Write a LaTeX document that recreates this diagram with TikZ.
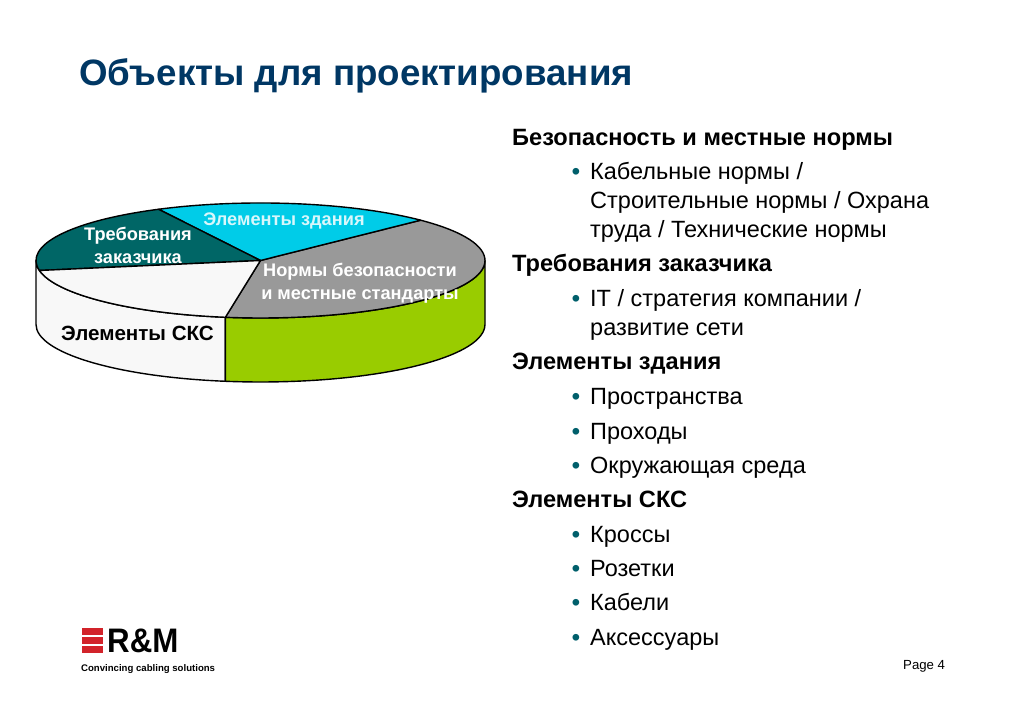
\documentclass[tikz,border=0pt]{standalone}
\usepackage{fontspec}
\usetikzlibrary{calc}
\setmainfont{Liberation Sans}
\definecolor{titleblue}{HTML}{003764}
\definecolor{bulletteal}{HTML}{005F6B}
\definecolor{sliceteal}{HTML}{006666}
\definecolor{slicecyan}{HTML}{00CCE8}
\definecolor{slicegrey}{HTML}{999999}
\definecolor{slicegreen}{HTML}{99CC00}
\definecolor{slicewhite}{HTML}{F8F8F8}
\definecolor{logored}{HTML}{D2232A}
\tikzset{
  heading/.style={anchor=base west,inner sep=0pt,font=\fontsize{23.6}{26}\selectfont\bfseries},
  bodytext/.style={anchor=base west,inner sep=0pt,font=\fontsize{23.5}{26}\selectfont},
  bulletmark/.style={anchor=base,inner sep=0pt,text=bulletteal,font=\fontsize{23.5}{26}\selectfont\bfseries},
  slicelabel/.style={inner sep=0pt,align=center,font=\fontsize{18.2}{23}\selectfont\bfseries},
  pieline/.style={draw=black,line width=1.4pt,line join=round},
}
\begin{document}
\begin{tikzpicture}[x=1pt,y=1pt]
\useasboundingbox (0,0) rectangle (1023,708);

% Pie centre and radii
\def\rx{224.5pt}
\def\ry{57.5pt}
\def\dep{64}
\coordinate (O) at (260.5,447.5);

% Side walls
\draw[pieline,fill=slicewhite] ($(O)+(261:224.5 and 57.5)$) arc[start angle=261,end angle=180,x radius=\rx,y radius=\ry]
  -- ++(0,-\dep) arc[start angle=180,end angle=261,x radius=\rx,y radius=\ry] -- cycle;
\draw[pieline,fill=slicegreen] ($(O)+(261:224.5 and 57.5)$) arc[start angle=261,end angle=360,x radius=\rx,y radius=\ry]
  -- ++(0,-\dep) arc[start angle=360,end angle=261,x radius=\rx,y radius=\ry] -- cycle;

% Top slices
\draw[pieline,fill=slicegrey] (O) -- ($(O)+(44.5:224.5 and 57.5)$) arc[start angle=44.5,end angle=-99,x radius=\rx,y radius=\ry] -- cycle;
\draw[pieline,fill=slicecyan] (O) -- ($(O)+(117:224.5 and 57.5)$) arc[start angle=117,end angle=44.5,x radius=\rx,y radius=\ry] -- cycle;
\draw[pieline,fill=sliceteal] (O) -- ($(O)+(190:224.5 and 57.5)$) arc[start angle=190,end angle=117,x radius=\rx,y radius=\ry] -- cycle;
\draw[pieline,fill=slicewhite] (O) -- ($(O)+(261:224.5 and 57.5)$) arc[start angle=261,end angle=190,x radius=\rx,y radius=\ry] -- cycle;

% Slice labels
\node[slicelabel,text=white!85!slicecyan] (lblbuild) at (284,487.5) {Элементы здания};
\node[slicelabel,text=white] (lblcust) at (138,462.5) {Требования\\заказчика};
\node[slicelabel,text=white] (lblsafe) at (360,424.5) {Нормы безопасности\\и местные стандарты};
\node[slicelabel,text=black,font=\fontsize{20.6}{23}\selectfont\bfseries] (lblsks) at (137.5,375) {Элементы СКС};

% Title
\node[anchor=base west,inner sep=0pt,text=titleblue,font=\fontsize{36.7}{40}\selectfont\bfseries] (title) at (79,622) {Объекты для проектирования};

% Headings
\node[heading] (headsafe) at (512,562.5) {Безопасность и местные нормы};
\node[heading] (headcust) at (512,436) {Требования заказчика};
\node[heading] (headbuild) at (512,338) {Элементы здания};
\node[heading] (headsks) at (512,200) {Элементы СКС};

% Bullet items
\foreach \name/\ypos/\txt in {f/303/Пространства,g/268/Проходы,h/234/Окружающая среда,i/165/Кроссы,j/131/Розетки,k/97/Кабели,l/62/Аксессуары}{
  \node[bulletmark] (mark\name) at (576,\ypos) {•};
  \node[bodytext] (item\name) at (590,\ypos) {\txt};
}
\node[bulletmark] (marka) at (576,528) {•};
\node[bodytext] (itema) at (590,528) {Кабельные нормы /};
\node[bodytext] (itemb) at (590,499) {Строительные нормы / Охрана};
\node[bodytext] (itemc) at (590,470) {труда / Технические нормы};
\node[bulletmark] (markd) at (576,401) {•};
\node[bodytext] (itemd) at (590,401) {IT / стратегия компании /};
\node[bodytext] (iteme) at (590,372) {развитие сети};

% Logo
\foreach \ypos in {80,71,62}{
  \fill[logored] (82,\ypos) rectangle ++(21,-7);
}
\node[anchor=base west,inner sep=0pt,xscale=0.92,font=\fontsize{34}{36}\selectfont\bfseries] (logoname) at (107,55) {R\&M};
\node[anchor=base west,inner sep=0pt,font=\fontsize{9.6}{12}\selectfont\bfseries] (slogan) at (81,36.5) {Convincing cabling solutions};

% Page number
\node[anchor=base west,inner sep=0pt,font=\fontsize{13.2}{15}\selectfont] (pagenum) at (903,38) {Page 4};
\end{tikzpicture}
\end{document}
